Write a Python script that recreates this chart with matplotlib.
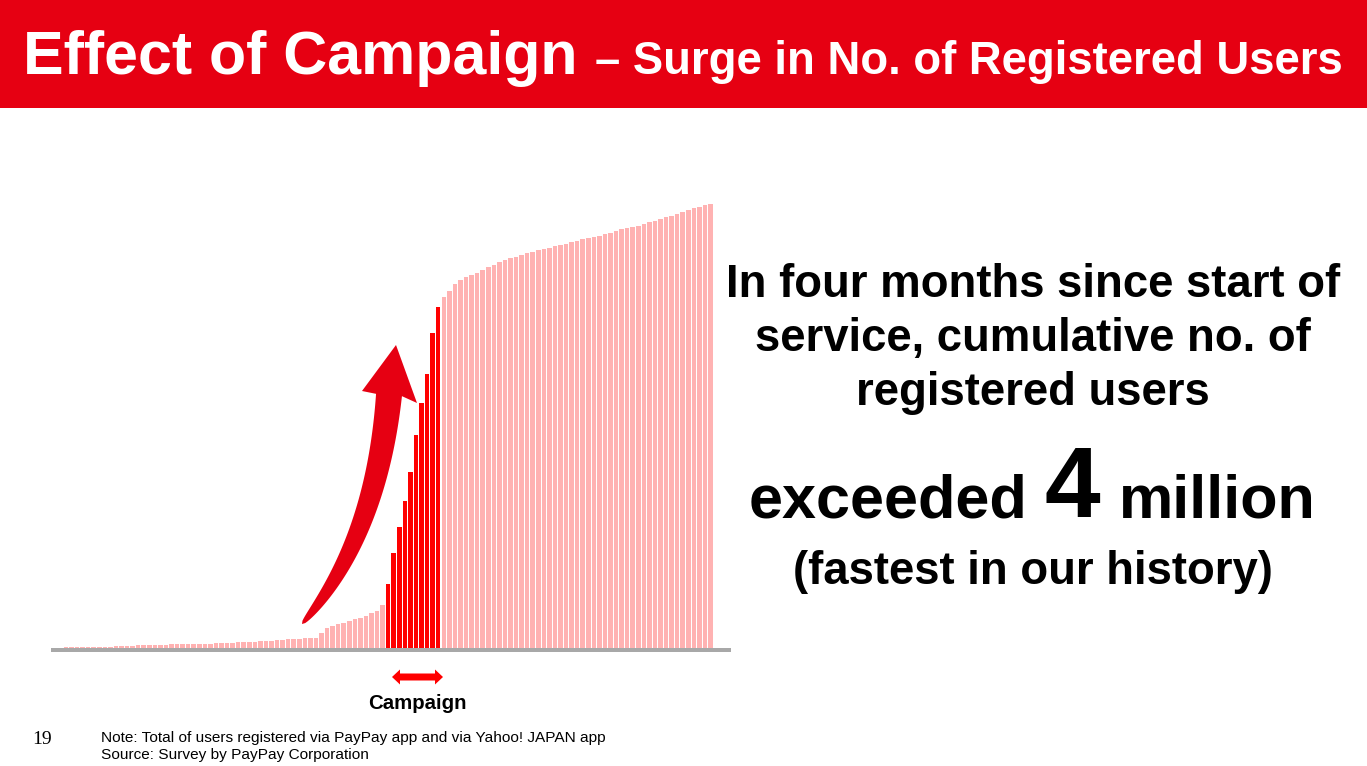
import numpy as np
import matplotlib
matplotlib.use("Agg")
import matplotlib.pyplot as plt
from matplotlib.patches import Rectangle, Polygon

# ── Data: cumulative registered users per day (10k users) ──────────────────
pre_campaign = [0.3, 0.4, 0.5, 0.5, 0.5, 0.6, 0.7, 0.8, 0.9, 1.1, 1.3, 1.5,
                1.6, 1.8, 2.1, 2.3, 2.5, 2.6, 2.7, 2.9, 3.1, 3.3, 3.4, 3.5,
                3.6, 3.6, 3.7, 3.9, 4.1, 4.3, 4.5, 4.7, 4.8, 5.1, 5.4, 5.7,
                5.9, 6.2, 6.4, 6.7, 6.9, 7.3, 7.8, 8.2, 8.5, 8.7, 8.8, 9.1,
                13.7, 18.2, 19.8, 21.6, 22.8, 24.4, 26.2, 27.6, 29.2, 31.6,
                33.5, 38.9]
campaign = [58.1, 86.6, 110.4, 133.8, 160.8, 194.0, 223.4, 249.9, 287.3, 310.7]
post_campaign = [319.8, 325.3, 332.2, 335.6, 338.4, 340.2, 342.0, 344.5, 347.2,
                 349.6, 352.0, 353.6, 355.7, 356.9, 358.4, 360.2, 361.4, 363.0,
                 363.9, 365.1, 366.6, 367.8, 368.7, 370.3, 371.2, 372.7, 373.6,
                 374.8, 376.0, 377.3, 378.8, 380.3, 381.9, 382.8, 384.0, 384.9,
                 386.4, 388.2, 389.7, 391.2, 392.8, 394.3, 395.8, 397.6, 399.2,
                 401.0, 402.2, 403.7, 404.9]

values = pre_campaign + campaign + post_campaign
days = np.arange(len(values))
is_campaign = [False] * len(pre_campaign) + [True] * len(campaign) + [False] * len(post_campaign)

RED = "#E60012"
PINK = "#FFB2B2"
CAMP = "#FF0000"
W, H = 1367, 766

plt.rcParams["font.family"] = ["Liberation Sans", "DejaVu Sans"]
fig = plt.figure(figsize=(W / 100, H / 100), dpi=100)
fig.patch.set_facecolor("white")

# ── bar chart (pixel box: x 52..713, y 190..648) ──────────────────────────
ax = fig.add_axes([52 / W, (H - 648) / H, (713.3 - 52) / W, (648 - 190) / H])
ax.bar(days, values, width=0.82,
       color=[CAMP if c else PINK for c in is_campaign], linewidth=0)
ax.set_xlim(-0.5, len(values) - 0.5)
ax.set_ylim(0, 417.7)
ax.axis("off")

# ── overlay in pixel coordinates for slide decorations ────────────────────
ov = fig.add_axes([0, 0, 1, 1], zorder=5)
ov.set_xlim(0, W)
ov.set_ylim(H, 0)
ov.axis("off")
ov.patch.set_visible(False)

# header band
ov.add_patch(Rectangle((0, 0), W, 108, color=RED, lw=0))
ov.text(23, 74, "Effect of Campaign", color="white", fontsize=43.8,
        fontweight="bold", va="baseline", ha="left")
ov.text(595, 74, "\u2013 Surge in No. of Registered Users", color="white",
        fontsize=32.8, fontweight="bold", va="baseline", ha="left")

# baseline of the chart
ov.add_patch(Rectangle((51, 648), 680, 4, color="#A8A8A8", lw=0))

# curved growth arrow
t = np.linspace(0, 1, 80)[:, None]
P0, P1, P2 = np.array([302, 624]), np.array([376, 540]), np.array([389, 395])
c = (1 - t) ** 2 * P0 + 2 * (1 - t) * t * P1 + t ** 2 * P2
d = 2 * (1 - t) * (P1 - P0) + 2 * t * (P2 - P1)
n = np.column_stack([-d[:, 1], d[:, 0]])
n /= np.linalg.norm(n, axis=1)[:, None]
hw = 13 * t ** 0.45
right = c + n * hw
left = c - n * hw
head = np.array([[417, 403], [396, 345], [362, 391]])
ov.add_patch(Polygon(np.vstack([right, head, left[::-1]]), closed=True,
                     color=RED, lw=0))

# campaign double arrow + label
dbl = np.array([[392, 677], [400, 669.5], [400, 673.5], [435, 673.5],
                [435, 669.5], [443, 677], [435, 684.5], [435, 680.5],
                [400, 680.5], [400, 684.5]])
ov.add_patch(Polygon(dbl, closed=True, color=CAMP, lw=0))
ov.text(417.5, 709, "Campaign", fontsize=14.7, fontweight="bold",
        ha="center", va="baseline")

# message on the right
cx = 1033
for y, line in [(297, "In four months since start of"),
                (351, "service, cumulative no. of"),
                (405, "registered users")]:
    ov.text(cx, y, line, fontsize=32.8, fontweight="bold",
            ha="center", va="baseline")
ov.text(1027, 517, "exceeded", fontsize=44, fontweight="bold",
        ha="right", va="baseline")
ov.text(1072, 517, "4", fontsize=72, fontweight="bold",
        ha="center", va="baseline")
ov.text(1119, 517, "million", fontsize=44, fontweight="bold",
        ha="left", va="baseline")
ov.text(cx, 584, "(fastest in our history)", fontsize=32.8, fontweight="bold",
        ha="center", va="baseline")

# footer
ov.text(32, 744, "19", fontsize=14, family="Liberation Serif",
        ha="left", va="baseline")
ov.text(101, 742, "Note: Total of users registered via PayPay app and via Yahoo! JAPAN app",
        fontsize=11.1, ha="left", va="baseline")
ov.text(101, 759, "Source: Survey by PayPay Corporation",
        fontsize=11.1, ha="left", va="baseline")

fig.savefig("out.png", dpi=100)
